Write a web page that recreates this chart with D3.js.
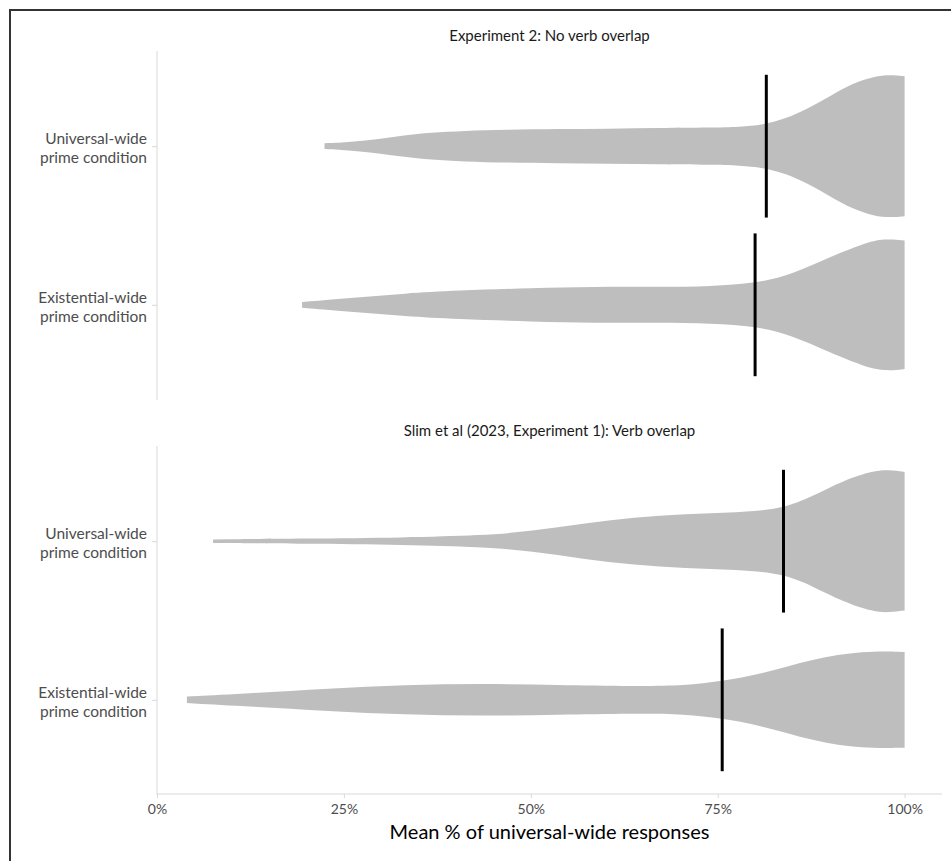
<!DOCTYPE html>
<html><head><meta charset="utf-8">
<script src="https://cdn.jsdelivr.net/npm/d3@7"></script>
<style>
html,body{margin:0;padding:0;background:#fff;}
svg{display:block;font-family:Lato,"Open Sans",sans-serif;}
</style></head>
<body><svg id="chart" width="951" height="861"></svg>
<script>
// ---- data ----
const panelTitles = ["Experiment 2: No verb overlap", "Slim et al (2023, Experiment 1): Verb overlap"];
const conditions = ["Universal-wide prime condition", "Existential-wide prime condition"];
const conditionLines = [["Universal-wide", "prime condition"], ["Existential-wide", "prime condition"]];
const meansExp2 = [81.5, 80.0];
const meansSlim = [83.8, 75.6];
const xTicks = [0, 25, 50, 75, 100];
const xTickLabels = ["0%", "25%", "50%", "75%", "100%"];
const xTitle = "Mean % of universal-wide responses";
// violin densities: [mean % , relative density]
const densExp2Universal = [[22.4,0.04],[26,0.06],[29.7,0.10],[33,0.15],[36.6,0.19],[41,0.215],[46.8,0.23],[53.6,0.24],[60.4,0.245],[67.3,0.255],[74.1,0.26],[78,0.27],[81,0.30],[84,0.38],[87,0.52],[90,0.70],[93,0.88],[96,0.98],[98,1.0],[100,0.98]];
const densExp2Existential = [[19.4,0.04],[26.3,0.10],[33.2,0.16],[40,0.20],[50.3,0.235],[58.4,0.255],[67.2,0.25],[74.1,0.26],[80.2,0.30],[85,0.43],[89.8,0.66],[94.5,0.86],[97.3,0.93],[100,0.90]];
const densSlimUniversal = [[7.5,0.025],[19.5,0.035],[33.2,0.05],[43.4,0.08],[50.2,0.14],[57,0.25],[63.8,0.335],[70.7,0.38],[77.5,0.40],[83.6,0.45],[87.7,0.63],[91.8,0.85],[95.9,0.99],[97.9,1.0],[100,0.97]];
const densSlimExistential = [[4,0.046],[12.7,0.094],[22.9,0.158],[33.2,0.21],[43.4,0.225],[53.6,0.21],[63.8,0.19],[70.7,0.20],[75.4,0.26],[80.9,0.36],[87.7,0.575],[94.5,0.687],[100,0.67]];

const panels = [
  {title: panelTitles[0], means: meansExp2, dens: [densExp2Universal, densExp2Existential], top: 51, bottom: 400, xAxis: false},
  {title: panelTitles[1], means: meansSlim, dens: [densSlimUniversal, densSlimExistential], top: 446, bottom: 795, xAxis: true}
];

const svg = d3.select("#chart");
const x = d3.scaleLinear().domain([0, 105]).range([157, 942]);
const axisCol = "#d9d9d9", textCol = "#4d4d4d";

// outer frame
svg.append("path").attr("d", "M10,861 L10,10 L951,10").attr("fill", "none").attr("stroke", "#333").attr("stroke-width", 2);

panels.forEach(p => {
  const g = svg.append("g");
  const y = d3.scalePoint().domain(conditions).range([p.top, p.bottom]).padding(0.6);
  const halfBand = 0.45 * y.step();
  const w = d3.scaleLinear().domain([0, 1]).range([0, halfBand]);

  // title
  g.append("text").attr("x", (x.range()[0] + x.range()[1]) / 2).attr("y", p.top - 10)
    .attr("text-anchor", "middle").attr("font-size", 15).attr("fill", "#1a1a1a").text(p.title);

  // y axis
  const yAxis = d3.axisLeft(y).tickSize(5).tickFormat("");
  const ya = g.append("g").attr("transform", `translate(${x(0)},0)`).call(yAxis);
  ya.select(".domain").attr("stroke", axisCol).attr("d", `M0,${p.top}V${p.bottom}`);
  ya.selectAll(".tick line").attr("stroke", axisCol);
  conditions.forEach((c, i) => {
    const t = g.append("text").attr("x", x(0) - 10).attr("y", y(c)).attr("text-anchor", "end")
      .attr("font-size", 15.5).attr("fill", textCol);
    conditionLines[i].forEach((ln, j) => {
      t.append("tspan").attr("x", x(0) - 10).attr("dy", j === 0 ? "-0.12em" : "1.2em").text(ln);
    });
  });

  // violins
  conditions.forEach((c, i) => {
    const cy = y(c);
    const area = d3.area().curve(d3.curveBasis)
      .x(d => x(d[0])).y0(d => cy - w(d[1])).y1(d => cy + w(d[1]));
    g.append("path").datum(p.dens[i]).attr("d", area).attr("fill", "#bebebe");
    g.append("line").attr("x1", x(p.means[i])).attr("x2", x(p.means[i]))
      .attr("y1", cy - halfBand).attr("y2", cy + halfBand)
      .attr("stroke", "#000").attr("stroke-width", 3);
  });

  if (p.xAxis) {
    const xa = g.append("g").attr("transform", `translate(0,${p.bottom - 1})`)
      .call(d3.axisBottom(x).tickValues(xTicks).tickSize(4).tickPadding(6)
        .tickFormat((d, i) => xTickLabels[i]));
    xa.select(".domain").attr("stroke", axisCol).attr("d", `M${x.range()[0]},0H${x.range()[1]}`);
    xa.selectAll(".tick line").attr("stroke", axisCol);
    xa.selectAll(".tick text").attr("font-size", 14).attr("fill", textCol).attr("font-family", "Lato,sans-serif");
    svg.append("text").attr("x", (x.range()[0] + x.range()[1]) / 2).attr("y", 839)
      .attr("text-anchor", "middle").attr("font-size", 20).attr("fill", "#000").text(xTitle);
  }
});
</script></body></html>
